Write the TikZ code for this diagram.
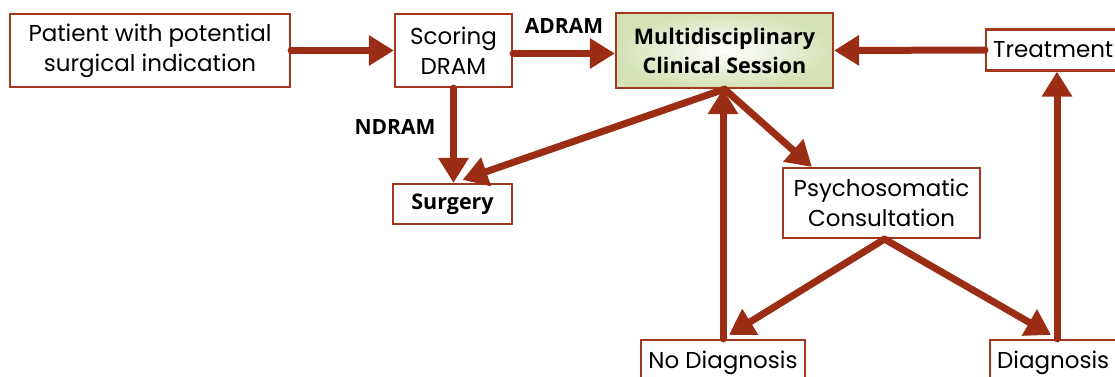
\documentclass[tikz,border=0pt]{standalone}
\usepackage{fontspec}
\setmainfont{Poppins}
\newfontfamily\bfam{Open Sans}
\usetikzlibrary{arrows.meta,calc}
\definecolor{boxc}{RGB}{165,55,30}
\definecolor{arrc}{RGB}{155,45,20}
\definecolor{mcsg}{RGB}{212,226,182}
\tikzset{
  box/.style={draw=boxc, line width=2.2pt, fill=white, inner sep=0pt, align=center,
    font=\fontsize{23}{30}\selectfont},
  bbox/.style={box, font=\bfam\bfseries\fontsize{21.5}{29}\selectfont},
  lab/.style={inner sep=0pt, font=\bfam\bfseries\fontsize{21}{24}\selectfont},
  conn/.style={draw=arrc, line width=7pt, line cap=round,
    -{Triangle[length=25pt,width=29pt]}},
}
\begin{document}
\begin{tikzpicture}[x=1pt,y=-1pt]
\useasboundingbox (0,0) rectangle (1115,376);
\node[box, minimum width=280, minimum height=73] (pat) at (150,50.5)
  {Patient with potential\\surgical indication};
\node[box, minimum width=117, minimum height=73] (scor) at (453.5,50.5)
  {Scoring\\DRAM};
\node[bbox, draw=boxc, inner color=white, outer color=mcsg,
  minimum width=217, minimum height=75] (mcs) at (724.5,50.5)
  {Multidisciplinary\\Clinical Session};
\node[box, anchor=west, inner xsep=7pt, minimum height=41] (tre) at (985,50)
  {Treatment\hspace*{20pt}};
\node[bbox, minimum width=119, minimum height=40] (surg) at (452.5,204) {Surgery};
\node[box, minimum width=197, minimum height=70] (psy) at (881.5,203)
  {Psychosomatic\\Consultation};
\node[box, minimum width=164, minimum height=46] (nod) at (723,363) {No Diagnosis};
\node[box, anchor=west, inner xsep=7pt, minimum height=46] (dia) at (989,363)
  {Diagnosis\hspace*{20pt}};
\node[lab] (adram) at (564,26) {ADRAM};
\node[lab] (ndram) at (395,127) {NDRAM};
\coordinate (dtop) at ($(dia.north west)+(68,0)$);
\coordinate (nartip) at ($(nod.north)+(6,-4)$);
% connectors
\draw[conn] (pat.east) -- (scor.west);
\draw[conn] ($(scor.east)+(0,3)$) -- ($(mcs.west)+(0,3)$);
\draw[conn] (scor.south) -- (scor.south |- surg.north);
\draw[conn] (mcs.south) -- ($(surg.north)+(10,-3)$);
\draw[conn] (mcs.south) -- ($(psy.north west)+(30,0)$);
\draw[conn] (nod.north) -- (nod.north |- mcs.south);
\draw[conn] ($(psy.south)+(3,0)$) -- (nartip);
\draw[conn] ($(psy.south)+(3,0)$) -- ($(dtop)+(-6,-4)$);
\draw[conn] (dtop) -- (dtop |- tre.south);
\draw[conn] (tre.west) -- (mcs.east);
\end{tikzpicture}
\end{document}
